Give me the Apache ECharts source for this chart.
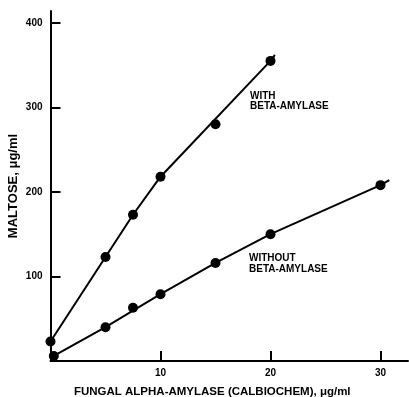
<!DOCTYPE html>
<html>
<head>
<meta charset="utf-8">
<script src="https://cdn.jsdelivr.net/npm/echarts@6/dist/echarts.min.js"></script>
<style>html,body{margin:0;padding:0;background:#fff;}#c{width:409px;height:397px;}</style>
</head>
<body>
<div id="c"></div>
<script>
// Measured points
var withBeta = [[0, 23], [5, 123], [7.5, 173], [10, 218], [15, 280], [20, 355]];
var withoutBeta = [[0.3, 6], [5, 40], [7.5, 63], [10, 79], [15, 116], [20, 150], [30, 208]];
// Drawn curves
var withCurve = [[0, 23], [5, 123], [7.5, 173], [10, 218], [20, 355], [20.4, 362]];
var withoutCurve = [[0.3, 6], [5, 40], [10, 79], [15, 116], [20, 150], [30, 208], [30.8, 214]];
// Ticks
var xTicks = [10, 20, 30];
var yTicks = [100, 200, 300, 400];
var xName = 'FUNGAL ALPHA-AMYLASE (CALBIOCHEM), \u03bcg/ml';
var yName = 'MALTOSE, \u03bcg/ml';
var labelWith = 'WITH\nBETA-AMYLASE';
var labelWithout = 'WITHOUT\nBETA-AMYLASE';

var FONT = '"Liberation Sans", Arial, sans-serif';
var chart = echarts.init(document.getElementById('c'), null, {renderer: 'canvas'});
var axisCommon = {
  axisLine: {show: true, onZero: false, lineStyle: {color: '#000', width: 2}},
  axisTick: {show: true, inside: true, length: 10, lineStyle: {color: '#000', width: 2}},
  splitLine: {show: false},
  axisLabel: {color: '#000', fontFamily: FONT, fontWeight: 'bold', fontSize: 10}
};
chart.setOption({
  animation: false,
  backgroundColor: '#fff',
  grid: {left: 50.5, top: 11, width: 357.5, height: 350, containLabel: false, outerBoundsMode: 'none'},
  xAxis: echarts.util.merge({
    type: 'value', min: 0, max: 32.5,
    axisTick: {customValues: xTicks},
    axisLabel: {customValues: xTicks, margin: 7},
    name: xName, nameLocation: 'middle', nameGap: 25,
    nameTextStyle: {color: '#000', fontFamily: FONT, fontWeight: 'bold', fontSize: 11.5, padding: [0, 34, 0, 0]}
  }, axisCommon, false),
  yAxis: echarts.util.merge({
    type: 'value', min: 0, max: 414,
    axisTick: {customValues: yTicks},
    axisLabel: {customValues: yTicks, margin: 8},
    name: yName, nameLocation: 'middle', nameGap: 31, nameMoveOverlap: false,
    nameTextStyle: {color: '#000', fontFamily: FONT, fontWeight: 'bold', fontSize: 13}
  }, axisCommon, false),
  series: [
    {type: 'line', data: withCurve, symbol: 'none', lineStyle: {color: '#000', width: 2}, z: 2},
    {type: 'line', data: withoutCurve, symbol: 'none', lineStyle: {color: '#000', width: 2}, z: 2},
    {type: 'scatter', data: withBeta, symbol: 'circle', symbolSize: 10, itemStyle: {color: '#000', opacity: 1}, z: 3},
    {type: 'scatter', data: withoutBeta, symbol: 'circle', symbolSize: 10, itemStyle: {color: '#000', opacity: 1}, z: 3}
  ],
  graphic: [
    {type: 'text', left: 250, top: 91, style: {text: labelWith, fill: '#000', font: 'bold 10px ' + FONT, lineHeight: 10}},
    {type: 'text', left: 249, top: 252, style: {text: labelWithout, fill: '#000', font: 'bold 10px ' + FONT, lineHeight: 11.5}}
  ]
});
</script>
</body>
</html>
